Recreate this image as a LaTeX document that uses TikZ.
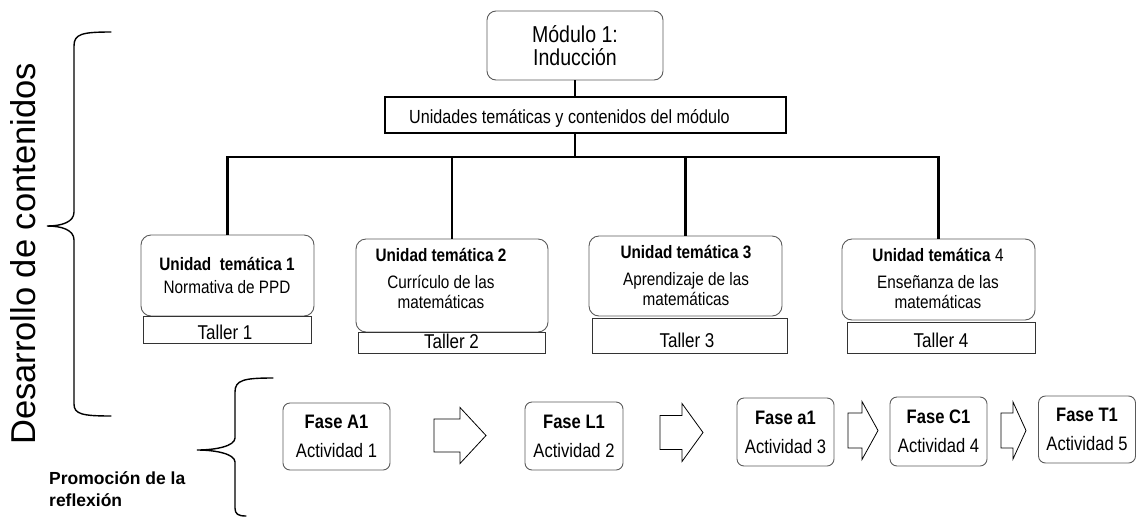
\documentclass[tikz,border=0pt]{standalone}
\usepackage{fontspec}
\setmainfont{Liberation Sans}[FakeStretch=0.85]
\newfontfamily\widefont{Liberation Sans}
\definecolor{edgegray}{HTML}{5A5A5A}
\newcommand\blockarrow[6]{% x1, x2, head start, y centre, shaft half height, head half height
  \draw[blockarr] (#1,#4-#5) -- (#3,#4-#5) -- (#3,#4-#6) -- (#2,#4)
    -- (#3,#4+#6) -- (#3,#4+#5) -- (#1,#4+#5) -- cycle;}
\begin{document}
\begin{tikzpicture}[x=1pt,y=-1pt,
  roundbox/.style={draw=edgegray, line width=0.9pt, rounded corners=9pt, inner sep=0pt},
  modbox/.style={roundbox, align=center, font=\fontsize{23}{23}\selectfont},
  unitsbox/.style={draw=black, line width=2.8pt, inner sep=0pt},
  unitbox/.style={roundbox, rounded corners=10pt},
  unittext/.style={align=center, inner sep=0pt, font=\fontsize{18}{20}\selectfont},
  tallerbox/.style={draw=black!80, line width=0.8pt, inner sep=0pt},
  tallertext/.style={anchor=base, inner sep=0pt, font=\fontsize{20}{20}\selectfont},
  phasebox/.style={roundbox, rounded corners=7pt, align=center,
    font=\fontsize{19.5}{29}\selectfont},
  blockarr/.style={draw=black, line width=0.8pt, fill=white},
  tree/.style={line width=2.8pt},
  drop/.style={line width=2.3pt},
  brace/.style={line width=1.4pt, line cap=round}
]
\useasboundingbox (0,0) rectangle (1137,520);

% module and its content heading
\node[modbox, minimum width=176pt, minimum height=69pt] (mod) at (575,45.5)
  {Módulo 1:\\Inducción};
\node[unitsbox, minimum width=401pt, minimum height=36pt] (units) at (585.5,115) {};
\node[anchor=base west, inner sep=0pt, font=\fontsize{19}{19}\selectfont] (unitslbl)
  at (409,123) {Unidades temáticas y contenidos del módulo};

% thematic units
\node[unitbox, minimum width=173pt, minimum height=81pt] (u1) at (227.5,275.5) {};
\node[unitbox, minimum width=192pt, minimum height=93pt] (u2) at (452,285.5) {};
\node[unitbox, minimum width=193pt, minimum height=80pt] (u3) at (685.5,276) {};
\node[unitbox, minimum width=193pt, minimum height=81pt] (u4) at (938.5,279.5) {};

\node[unittext] (u1t) at (227,275) {\textbf{Unidad\ \ temática 1}\\[3pt]Normativa de PPD};
\node[unittext] (u2t) at (441,278.5) {\textbf{Unidad temática 2}\\[7pt]Currículo de las\\matemáticas};
\node[unittext] (u3t) at (686,275) {\textbf{Unidad temática 3}\\[7pt]Aprendizaje de las\\matemáticas};
\node[unittext] (u4t) at (938,278.5) {\textbf{Unidad temática} 4\\[7pt]Enseñanza de las\\matemáticas};

% workshops under each unit
\node[tallerbox, minimum width=168pt, minimum height=27pt] (t1) at (227,329.5) {};
\node[tallerbox, minimum width=187pt, minimum height=21pt] (t2) at (451.5,342.5) {};
\node[tallerbox, minimum width=195pt, minimum height=35pt] (t3) at (689.5,335.5) {};
\node[tallerbox, minimum width=188pt, minimum height=31pt] (t4) at (941,337.5) {};
\node[tallertext] (t1t) at (225,339) {Taller 1};
\node[tallertext] (t2t) at (451.5,348) {Taller 2};
\node[tallertext] (t3t) at (687,347) {Taller 3};
\node[tallertext] (t4t) at (941,347) {Taller 4};

% tree connectors
\coordinate (barL) at (227.5,157);
\coordinate (barR) at (938.5,157);
\draw[tree] (mod.south) -- (mod.south |- units.north);
\draw[tree] (units.south -| mod.south) -- (barL -| mod.south);
\draw[tree, line cap=rect] (barL) -- (barR);
\draw[drop] (barL) -- (u1.north);
\draw[drop] (u2.north |- barL) -- (u2.north);
\draw[drop] (u3.north |- barL) -- (u3.north);
\draw[drop] (barR) -- (u4.north);

% phases of the reflection cycle
\node[phasebox, minimum width=107pt, minimum height=67pt] (p1) at (336.5,436.5) {\textbf{Fase A1}\\Actividad 1};
\node[phasebox, minimum width=98pt, minimum height=68pt] (p2) at (574,436) {\textbf{Fase L1}\\Actividad 2};
\node[phasebox, minimum width=97pt, minimum height=68pt] (p3) at (785.5,432) {\textbf{Fase a1}\\Actividad 3};
\node[phasebox, minimum width=97pt, minimum height=69pt] (p4) at (938.5,431.5) {\textbf{Fase C1}\\Actividad 4};
\node[phasebox, minimum width=97pt, minimum height=67pt] (p5) at (1087,429.5) {\textbf{Fase T1}\\Actividad 5};

% block arrows between phases
\blockarrow{434}{486}{460}{435.5}{16.5}{28}
\blockarrow{660}{703}{682}{432.5}{17}{29}
\blockarrow{848}{878}{862}{430.5}{17.5}{29}
\blockarrow{1001}{1026}{1013}{430.5}{17.5}{28.5}

% braces and side labels
\draw[brace] (111,32) .. controls (82,32) and (74,34) .. (74,46) -- (74,212)
  .. controls (74,222) and (62,226) .. (47,226)
  .. controls (62,226) and (74,230) .. (74,240) -- (74,404)
  .. controls (74,414) and (82,416) .. (111,416);
\node[rotate=90, inner sep=0pt, font=\widefont\fontsize{34.5}{34.5}\selectfont] (desarrollo)
  at (23.5,254) {Desarrollo de contenidos};

\draw[brace] (273,378) .. controls (244,378) and (235,380) .. (235,392) -- (235,438)
  .. controls (235,446) and (216,450) .. (197,450)
  .. controls (216,450) and (235,454) .. (235,462) -- (235,508)
  .. controls (235,514) and (238,516) .. (246,516);
\node[anchor=north west, inner sep=0pt, align=left,
  font=\widefont\bfseries\fontsize{17.5}{22}\selectfont] (promo)
  at (49,471) {Promoción de la\\reflexión};
\end{tikzpicture}
\end{document}
